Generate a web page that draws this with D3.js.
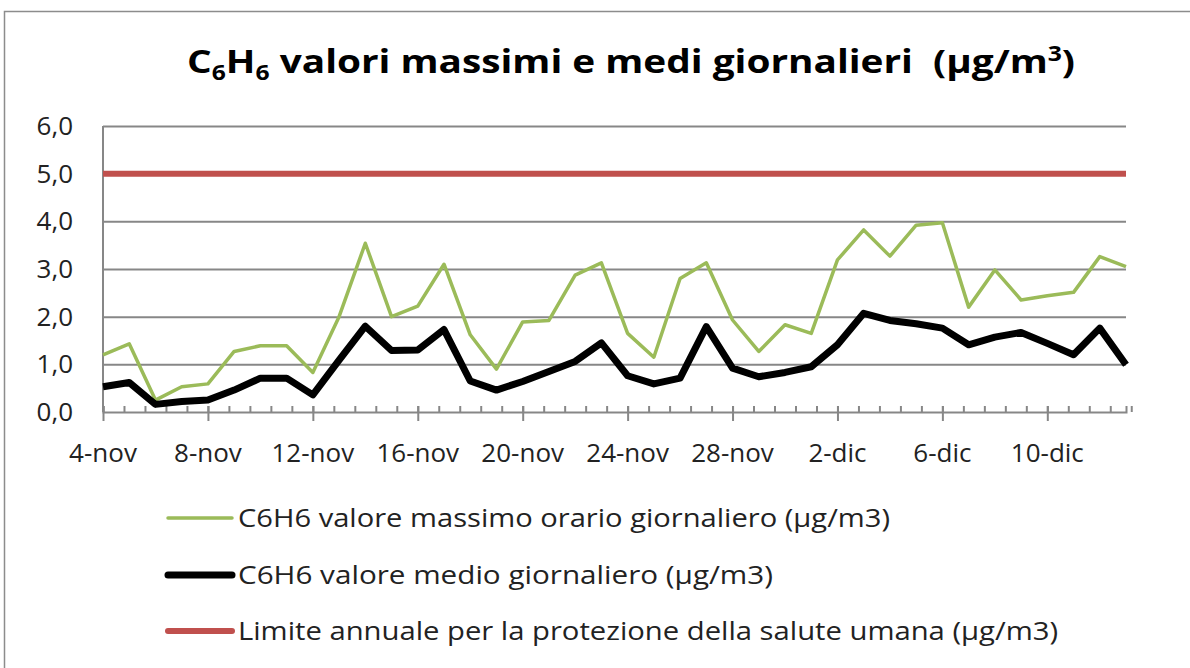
<!DOCTYPE html>
<html>
<head>
<meta charset="utf-8">
<script src="https://cdn.jsdelivr.net/npm/d3@7"></script>
<style>
  body { margin: 0; background: #fff; }
  svg { display: block; font-family: "Open Sans", "Noto Sans", sans-serif; }
</style>
</head>
<body>
<svg id="chart" width="1190" height="668"></svg>
<script>
// Data (one value per day, 4-nov .. 13-dic)
const startDay = "2013-11-04";
const maxValues = [
  1.20, 1.43, 0.25, 0.53, 0.59, 1.27, 1.39, 1.39, 0.83, 2.00,
  3.54, 2.00, 2.22, 3.10, 1.62, 0.90, 1.89, 1.92, 2.87, 3.13,
  1.65, 1.15, 2.80, 3.13, 1.93, 1.27, 1.83, 1.65, 3.19, 3.82,
  3.27, 3.92, 3.97, 2.20, 2.98, 2.35, 2.44, 2.51, 3.26, 3.05
];
const meanValues = [
  0.53, 0.62, 0.16, 0.22, 0.25, 0.46, 0.71, 0.71, 0.36, 1.09,
  1.80, 1.29, 1.30, 1.73, 0.65, 0.46, 0.64, 0.85, 1.06, 1.45,
  0.76, 0.59, 0.71, 1.79, 0.92, 0.74, 0.83, 0.95, 1.41, 2.07,
  1.92, 1.85, 1.76, 1.41, 1.57, 1.67, 1.44, 1.20, 1.76, 0.99
];
const limitValue = 5.0;
const yTicks = [0, 1, 2, 3, 4, 5, 6];
const xTickLabels = ["4-nov", "8-nov", "12-nov", "16-nov", "20-nov", "24-nov", "28-nov", "2-dic", "6-dic", "10-dic"];
const legendLabels = [
  "C6H6 valore massimo orario giornaliero (µg/m3)",
  "C6H6 valore medio giornaliero (µg/m3)",
  "Limite annuale per la protezione della salute umana (µg/m3)"
];
const colors = { max: "#9bbb59", mean: "#000000", limit: "#c0504d", grid: "#878787" };

const svg = d3.select("#chart");
const start = new Date(startDay + "T00:00:00Z");
const days = d3.utcDay.range(start, d3.utcDay.offset(start, maxValues.length));
const monthNames = ["gen", "feb", "mar", "apr", "mag", "giu", "lug", "ago", "set", "ott", "nov", "dic"];
const fmt = d => `${d.getUTCDate()}-${monthNames[d.getUTCMonth()]}`;

const plot = { left: 103, right: 1126, top: 126, bottom: 412 };
const x = d3.scaleUtc().domain(d3.extent(days)).range([plot.left, plot.right]);
const y = d3.scaleLinear().domain([0, 6]).range([plot.bottom, plot.top]);

// outer chart frame
svg.append("rect")
  .attr("x", 4.5).attr("y", 11.5)
  .attr("width", 1300).attr("height", 800)
  .attr("fill", "none").attr("stroke", "#8c8c8c").attr("stroke-width", 1.5);

// title with sub/superscripts
const title = svg.append("text")
  .attr("x", 187).attr("y", 73)
  .attr("font-weight", "bold").attr("font-size", 33)
  .attr("textLength", 888).attr("lengthAdjust", "spacingAndGlyphs")
  .attr("fill", "#000");
title.append("tspan").text("C");
title.append("tspan").attr("font-size", 21).attr("dy", 7).text("6");
title.append("tspan").attr("dy", -7).text("H");
title.append("tspan").attr("font-size", 21).attr("dy", 7).text("6");
title.append("tspan").attr("dy", -7).text(" valori massimi e medi giornalieri\u00a0\u00a0(µg/m");
title.append("tspan").attr("font-size", 21).attr("dy", -12).text("3");
title.append("tspan").attr("dy", 12).text(")");

// horizontal gridlines
svg.append("g")
  .attr("transform", `translate(${plot.left},0)`)
  .call(d3.axisLeft(y).tickValues(yTicks.filter(v => v > 0)).tickSize(-(plot.right - plot.left)).tickFormat(""))
  .call(g => g.select(".domain").remove())
  .call(g => g.selectAll("line").attr("stroke", colors.grid).attr("stroke-width", 2));

// y axis line and labels
svg.append("line")
  .attr("x1", plot.left).attr("x2", plot.left)
  .attr("y1", plot.top).attr("y2", plot.bottom)
  .attr("stroke", colors.grid).attr("stroke-width", 2);
svg.append("g")
  .selectAll("text")
  .data(yTicks)
  .join("text")
  .attr("x", 73).attr("y", d => y(d))
  .attr("dy", "0.35em")
  .attr("text-anchor", "end")
  .attr("font-size", 26).attr("fill", "#222")
  .text(d => d3.format(".1f")(d).replace(".", ","));

// x axis: minor ticks every 0.8 day (inside), major every 4 days (crossing)
const minorTicks = d3.range(0, maxValues.length - 0.5, 0.8).map(i => new Date(+start + i * 864e5));
const majorTicks = xTickLabels.map((_, i) => d3.utcDay.offset(start, i * 4));
svg.append("g")
  .attr("transform", `translate(0,${plot.bottom})`)
  .call(d3.axisBottom(x).tickValues(minorTicks).tickSize(-6).tickFormat(""))
  .call(g => g.select(".domain").attr("stroke", colors.grid).attr("stroke-width", 2))
  .call(g => g.selectAll("line").attr("stroke", colors.grid).attr("stroke-width", 2));
svg.append("g")
  .attr("transform", `translate(0,${plot.bottom})`)
  .call(d3.axisBottom(x).tickValues(majorTicks).tickSize(9).tickFormat(""))
  .call(g => g.select(".domain").remove())
  .call(g => g.selectAll("line").attr("stroke", colors.grid).attr("stroke-width", 2).attr("y1", -6));
svg.append("g")
  .selectAll("text")
  .data(majorTicks)
  .join("text")
  .attr("x", d => x(d)).attr("y", 462)
  .attr("text-anchor", "middle")
  .attr("font-size", 26).attr("fill", "#222")
  .text(fmt);

// series
const line = d3.line().x((d, i) => x(days[i])).y(d => y(d));
svg.append("path")
  .datum(maxValues)
  .attr("d", line)
  .attr("fill", "none").attr("stroke", colors.max).attr("stroke-width", 3.5)
  .attr("stroke-linejoin", "round");
svg.append("path")
  .datum(meanValues)
  .attr("d", line)
  .attr("fill", "none").attr("stroke", colors.mean).attr("stroke-width", 7)
  .attr("stroke-linejoin", "round");
svg.append("path")
  .datum(days.map(() => limitValue))
  .attr("d", line)
  .attr("fill", "none").attr("stroke", colors.limit).attr("stroke-width", 6);

// legend
const legendRows = [
  { label: legendLabels[0], color: colors.max, width: 3.5, y: 518, len: 652 },
  { label: legendLabels[1], color: colors.mean, width: 7, y: 575, len: 535 },
  { label: legendLabels[2], color: colors.limit, width: 6, y: 631, len: 820 }
];
const legend = svg.append("g");
legend.selectAll("line")
  .data(legendRows)
  .join("line")
  .attr("x1", 168).attr("x2", 232)
  .attr("y1", d => d.y).attr("y2", d => d.y)
  .attr("stroke", d => d.color).attr("stroke-width", d => d.width)
  .attr("stroke-linecap", "round");
legend.selectAll("text")
  .data(legendRows)
  .join("text")
  .attr("x", 238).attr("y", d => d.y)
  .attr("dy", "0.36em")
  .attr("font-size", 26).attr("fill", "#222")
  .attr("textLength", d => d.len).attr("lengthAdjust", "spacingAndGlyphs")
  .text(d => d.label);
</script>
</body>
</html>
